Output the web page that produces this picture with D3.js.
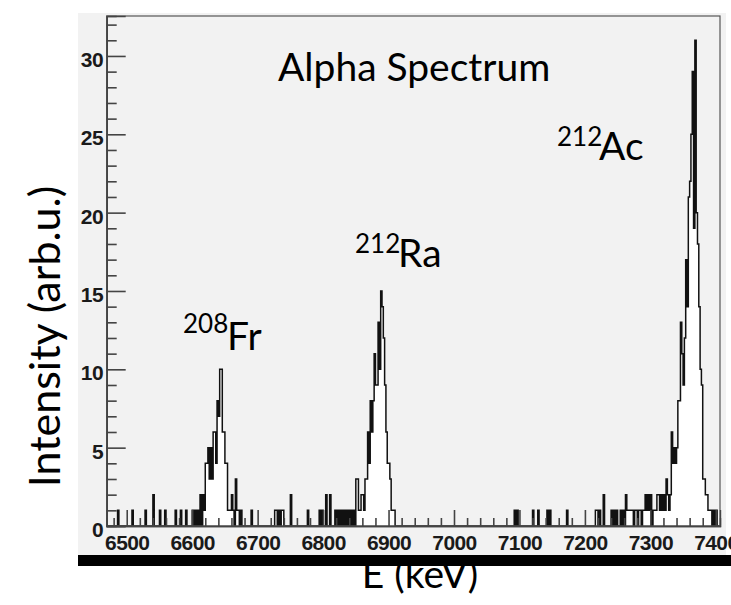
<!DOCTYPE html>
<html>
<head>
<meta charset="utf-8">
<script src="https://cdn.jsdelivr.net/npm/d3@7"></script>
<style>
  html, body { margin: 0; padding: 0; background: #ffffff; }
  svg { display: block; }
</style>
</head>
<body>
<svg id="chart" width="731" height="605"></svg>
<script>
// Alpha spectrum, counts per 2 keV bin. Only non-empty bins are listed (lower bin edge in keV).
const binLowEdge = [
  6486, 6508, 6528, 6540, 6550, 6558, 6574, 6582, 6590, 6600, 6604, 6608, 6612, 6616, 6618,
  6620, 6622, 6624, 6626, 6628, 6630, 6632, 6634, 6636, 6638, 6640, 6642, 6644, 6646, 6648,
  6650, 6652, 6654, 6656, 6658, 6660, 6662, 6666, 6668, 6670, 6674, 6690,
  6726, 6728, 6732, 6736, 6738, 6750, 6776, 6794, 6798, 6804, 6810,
  6818, 6822, 6826, 6830, 6834, 6838, 6842, 6846,
  6850, 6852, 6854, 6856, 6858, 6860, 6862, 6864, 6866, 6868, 6870, 6872, 6874, 6876, 6878,
  6880, 6882, 6884, 6886, 6888, 6890, 6892, 6894, 6896, 6898, 6900, 6902, 6904, 6906, 6908,
  7092, 7096, 7120, 7128, 7142, 7146, 7172, 7216, 7218, 7222, 7228, 7240, 7244, 7248,
  7254, 7258, 7262, 7264, 7266, 7268, 7270, 7272, 7276, 7278, 7282, 7284, 7288, 7290,
  7292, 7294, 7296, 7298, 7300, 7304, 7306, 7308, 7310, 7312, 7314, 7316, 7318, 7320, 7322,
  7324, 7326, 7328, 7330, 7332, 7334, 7336, 7338, 7340, 7342, 7344, 7346, 7348, 7350, 7352,
  7354, 7356, 7358, 7360, 7362, 7364, 7366, 7368, 7370, 7372, 7374, 7376, 7378, 7380, 7382,
  7384, 7386, 7388, 7390, 7392, 7396, 7400
];
const binCounts = [
  1, 1, 1, 2, 1, 1, 1, 1, 1, 1, 1, 1, 2, 2, 1,
  4, 4, 5, 3, 5, 3, 6, 6, 4, 8, 7, 10, 10, 6, 6,
  4, 4, 1, 1, 1, 2, 1, 3, 1, 1, 1, 1,
  1, 1, 1, 1, 1, 2, 1, 1, 1, 2, 2,
  1, 1, 1, 1, 1, 1, 1, 1,
  3, 3, 1, 1, 2, 2, 1, 3, 3, 6, 4, 8, 6, 8, 11,
  9, 9, 13, 10, 15, 14, 12, 9, 6, 4, 4, 3, 1, 1, 1,
  1, 1, 1, 1, 1, 1, 1, 1, 1, 1, 2, 1, 1, 1,
  1, 1, 2, 1, 1, 1, 1, 1, 1, 1, 1, 1, 1, 1,
  2, 1, 2, 1, 2, 1, 1, 1, 2, 2, 1, 2, 1, 2, 1,
  3, 2, 1, 2, 6, 4, 5, 4, 5, 8, 8, 13, 11, 9, 12,
  17, 14, 21, 22, 25, 29, 19, 31, 20, 18, 14, 10, 9, 3, 3,
  2, 2, 1, 1, 1, 1, 1
];
const binWidth = 2;               // keV
const histRange = [6470, 7406];   // keV, histogram limits

const xTickLabels = [6500, 6600, 6700, 6800, 6900, 7000, 7100, 7200, 7300, 7400];
const yTickLabels = [0, 5, 10, 15, 20, 25, 30];

const isotopeMass = ["208", "212", "212"];
const isotopeSymbol = ["Fr", "Ra", "Ac"];

const chartTitle = "Alpha Spectrum";
const xAxisTitle = "E (keV)";
const yAxisTitle = "Intensity (arb.u.)";

// ---------------------------------------------------------------- layout
const frame = { left: 106.7, right: 720, top: 16, bottom: 526 };
const labelFont = "Lato, 'Open Sans', sans-serif";
const tickFont = "'Liberation Sans', Arial, Helvetica, sans-serif";

const svg = d3.select("#chart");

// Full histogram, empty bins included
const nBins = Math.round((histRange[1] - histRange[0]) / binWidth);
const hist = d3.range(nBins).map(i => ({ lo: histRange[0] + i * binWidth, n: 0 }));
binLowEdge.forEach((e, i) => {
  const k = Math.round((e - histRange[0]) / binWidth);
  if (k >= 0 && k < nBins) hist[k].n = binCounts[i];
});
const histPts = hist.map(b => [b.lo, b.n]);
histPts.push([histRange[1], hist[nBins - 1].n]);

const yMax = d3.max(binCounts) * 1.05;
const x = d3.scaleLinear().domain([6469.4, 7406.4]).range([frame.left, frame.right]);
const y = d3.scaleLinear().domain([0, yMax]).range([frame.bottom, frame.top]);

// Panel background
svg.append("rect")
  .attr("x", 78).attr("y", 13).attr("width", 648).attr("height", 542)
  .attr("fill", "#f2f2f2");

svg.append("defs").append("clipPath").attr("id", "plotClip")
  .append("rect")
  .attr("x", frame.left).attr("y", frame.top)
  .attr("width", frame.right - frame.left).attr("height", frame.bottom - frame.top);

// Histogram: white fill under the step outline, black outline
const plot = svg.append("g").attr("clip-path", "url(#plotClip)");
plot.append("path")
  .datum(histPts)
  .attr("fill", "#ffffff")
  .attr("d", d3.area().curve(d3.curveStepAfter)
    .x(d => x(d[0])).y0(y(0)).y1(d => y(d[1])));
plot.append("path")
  .datum(histPts)
  .attr("fill", "none")
  .attr("stroke", "#111")
  .attr("stroke-width", 1.5)
  .attr("d", d3.line().curve(d3.curveStepAfter)
    .x(d => x(d[0])).y(d => y(d[1])));

// Frame
svg.append("rect")
  .attr("x", frame.left).attr("y", frame.top)
  .attr("width", frame.right - frame.left).attr("height", frame.bottom - frame.top)
  .attr("fill", "none").attr("stroke", "#555").attr("stroke-width", 1.2);

// X axis: ticks point into the frame
const xMinor = d3.range(6480, 7406, 20).filter(v => v % 100 !== 0);
const xMinorAxis = svg.append("g").attr("transform", `translate(0,${frame.bottom})`)
  .call(d3.axisBottom(x).tickValues(xMinor).tickSize(-8).tickFormat(""));
const xAxis = svg.append("g").attr("transform", `translate(0,${frame.bottom})`)
  .call(d3.axisBottom(x).tickValues(xTickLabels).tickSize(-16).tickPadding(9.3)
    .tickFormat(d3.format("d")));

// Y axis: ticks point into the frame
const yMinor = d3.range(0, 33, 1).filter(v => v % 5 !== 0);
const yMinorAxis = svg.append("g").attr("transform", `translate(${frame.left},0)`)
  .call(d3.axisLeft(y).tickValues(yMinor).tickSize(-10).tickFormat(""));
const yAxis = svg.append("g").attr("transform", `translate(${frame.left},0)`)
  .call(d3.axisLeft(y).tickValues(yTickLabels).tickSize(-19).tickPadding(3.7)
    .tickFormat(d3.format("d")));

[xMinorAxis, xAxis, yMinorAxis, yAxis].forEach(g => {
  g.select(".domain").attr("stroke", "#444").attr("stroke-width", 1.4);
  g.selectAll(".tick line").attr("stroke", "#444").attr("stroke-width", 1.6);
});
[xAxis, yAxis].forEach(g => {
  g.selectAll(".tick text")
    .attr("font-family", tickFont)
    .attr("font-weight", "bold")
    .attr("font-size", 21)
    .attr("letter-spacing", "-0.6px")
    .attr("fill", "#1a1a1a");
});
yAxis.selectAll(".tick text").attr("dy", "0.5em");

// Title
svg.append("text")
  .attr("x", 278).attr("y", 81)
  .attr("font-family", labelFont).attr("font-size", 39)
  .attr("fill", "#000")
  .text(chartTitle);

// Isotope labels with superscript mass numbers
const isoPos = [
  { mx: 183, my: 333, sx: 227, sy: 350 },
  { mx: 355, my: 253, sx: 398, sy: 267 },
  { mx: 557, my: 146, sx: 599, sy: 160 }
];
isotopeSymbol.forEach((sym, i) => {
  const p = isoPos[i];
  svg.append("text")
    .attr("x", p.mx).attr("y", p.my)
    .attr("font-family", labelFont).attr("font-size", 26).attr("fill", "#000")
    .text(isotopeMass[i]);
  svg.append("text")
    .attr("x", p.sx).attr("y", p.sy)
    .attr("font-family", labelFont).attr("font-size", 39).attr("fill", "#000")
    .text(sym);
});

// Y axis title
svg.append("text")
  .attr("transform", "translate(60,336.5) rotate(-90)")
  .attr("text-anchor", "middle")
  .attr("font-family", labelFont).attr("font-size", 43).attr("fill", "#000")
  .text(yAxisTitle);

// X axis title, partly covered by the bar below the axis
svg.append("text")
  .attr("x", 420).attr("y", 588)
  .attr("text-anchor", "middle")
  .attr("font-family", labelFont).attr("font-size", 39).attr("fill", "#000")
  .text(xAxisTitle);

svg.append("rect")
  .attr("x", 78).attr("y", 555).attr("width", 653).attr("height", 11)
  .attr("fill", "#000");
</script>
</body>
</html>
